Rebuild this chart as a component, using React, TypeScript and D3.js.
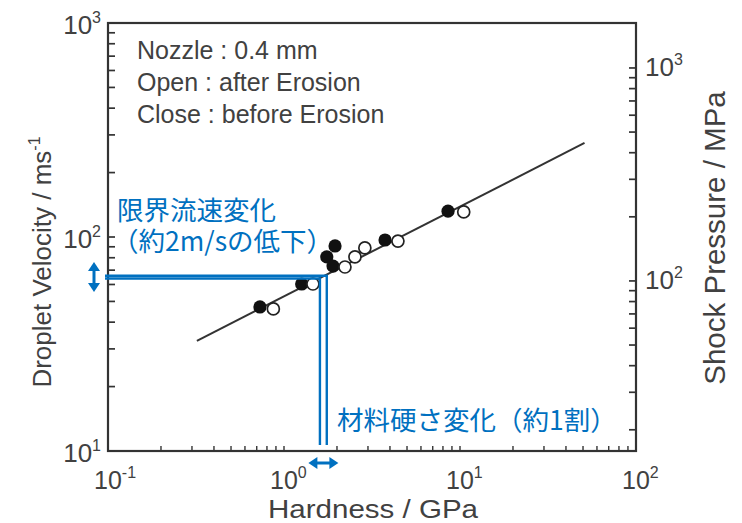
import React from "react";
import * as d3 from "d3";

// ---- data ----
const closedHardness = [0.73, 1.26, 1.75, 1.95, 1.9, 3.75, 8.55];
const closedVelocity = [47.1, 60.3, 80.7, 90.8, 73.1, 96.8, 132];
const openHardness = [0.87, 1.46, 2.22, 2.53, 2.88, 4.44, 10.5];
const openVelocity = [46.1, 60.3, 72.4, 80.7, 88.9, 95.7, 131];
const fitHardness = [0.32, 51];
const fitVelocity = [32.7, 275];
const criticalHardness = [1.75, 1.6];
const criticalVelocity = [65.9, 64.0];
const xTickValues = [0.1, 1, 10, 100];
const xTickExp = ["-1", "0", "1", "2"];
const yTickValues = [10, 100, 1000];
const yTickExp = ["1", "2", "3"];
const pTickValues = [100, 1000];
const pTickExp = ["2", "3"];
const notes = ["Nozzle : 0.4 mm", "Open : after Erosion", "Close : before Erosion"];
const velocityNote = ["限界流速変化", "（約2m/sの低下）"];
const hardnessNote = "材料硬さ変化（約1割）";

const W = 742;
const H = 523;
const L = 108, R = 636, T = 23, B = 451;
const BLUE = "#0070C0";
const INK = "#333";
const TXT = "#414141";
const FONT = "'Liberation Sans', Arial, sans-serif";
const JFONT = "'Noto Sans CJK JP', sans-serif";

export default function App() {
  const x = d3.scaleLog().domain([0.1, 100]).range([L, R]);
  const y = d3.scaleLog().domain([10, 1000]).range([B, T]);
  const p = d3.scaleLog().domain([15.9, 1626]).range([B, T]);

  const xt = x.ticks();
  const yt = y.ticks();
  const pt = p.ticks().filter((v) => v >= 20 && v <= 1000);

  const fit = d3
    .line<number>()
    .x((_, i) => x(fitHardness[i]))
    .y((_, i) => y(fitVelocity[i]));

  const vx = (x(criticalHardness[0]) + x(criticalHardness[1])) / 2;
  const vy = (y(criticalVelocity[0]) + y(criticalVelocity[1])) / 2;

  return (
    <svg
      width={W}
      height={H}
      viewBox={`0 0 ${W} ${H}`}
      style={{ position: "fixed", left: 0, top: 0, background: "#fff" }}
    >
      <rect x={0} y={0} width={W} height={H} fill="#fff" />
      {/* frame */}
      <rect x={L} y={T} width={R - L} height={B - T} fill="none" stroke={INK} strokeWidth={2.2} />
      {/* bottom ticks */}
      {xt.map((v, i) => (
        <line key={"xt" + i} x1={x(v)} x2={x(v)} y1={B} y2={B - 5} stroke={INK} strokeWidth={1.4} />
      ))}
      {/* left ticks */}
      {yt.map((v, i) => (
        <line key={"yt" + i} x1={L} x2={L + 7} y1={y(v)} y2={y(v)} stroke={INK} strokeWidth={1.7} />
      ))}
      {/* right ticks */}
      {pt.map((v, i) => (
        <line key={"pt" + i} x1={R} x2={R - 7} y1={p(v)} y2={p(v)} stroke={INK} strokeWidth={1.7} />
      ))}
      {/* bottom tick labels */}
      {xTickValues.map((v, i) => (
        <text key={"xl" + i} x={x(v) - 14} y={489} fontFamily={FONT} fontSize={25} fill={TXT}>
          10
          <tspan fontSize={16} dy={-11}>{xTickExp[i]}</tspan>
        </text>
      ))}
      {/* left tick labels */}
      {yTickValues.map((v, i) => (
        <text key={"yl" + i} x={101} y={y(v) + 11} fontFamily={FONT} fontSize={26} fill={TXT} textAnchor="end">
          10
          <tspan fontSize={16} dy={-11}>{yTickExp[i]}</tspan>
        </text>
      ))}
      {/* right tick labels */}
      {pTickValues.map((v, i) => (
        <text key={"pl" + i} x={645} y={p(v) + 8} fontFamily={FONT} fontSize={26} fill={TXT}>
          10
          <tspan fontSize={16} dy={-11}>{pTickExp[i]}</tspan>
        </text>
      ))}
      {/* axis titles */}
      <text
        x={268}
        y={517.5}
        fontFamily={FONT}
        fontSize={25.5}
        fill={TXT}
        textLength={210}
        lengthAdjust="spacingAndGlyphs"
      >
        Hardness / GPa
      </text>
      <text
        transform={`translate(51,262) rotate(-90)`}
        textAnchor="middle"
        fontFamily={FONT}
        fontSize={26}
        fill={TXT}
      >
        Droplet Velocity / ms<tspan fontSize={16} dy={-11}>-1</tspan>
      </text>
      <text
        transform={`translate(725,238) rotate(-90)`}
        textAnchor="middle"
        fontFamily={FONT}
        fontSize={29.5}
        fill={TXT}
      >
        Shock Pressure / MPa
      </text>
      {/* notes */}
      {notes.map((s, i) => (
        <text key={"n" + i} x={137} y={59 + i * 32} fontFamily={FONT} fontSize={25} fill={TXT}>
          {s}
        </text>
      ))}
      {/* fit line */}
      <path d={fit(fitHardness) || ""} fill="none" stroke={INK} strokeWidth={2} />
      {/* markers */}
      {closedHardness.map((h, i) => (
        <circle key={"c" + i} cx={x(h)} cy={y(closedVelocity[i])} r={6.6} fill="#111" />
      ))}
      {openHardness.map((h, i) => (
        <circle
          key={"o" + i}
          cx={x(h)}
          cy={y(openVelocity[i])}
          r={6}
          fill="#fff"
          stroke="#222"
          strokeWidth={1.7}
        />
      ))}
      {/* blue critical lines */}
      {criticalHardness.map((h, i) => (
        <polyline
          key={"b" + i}
          points={`${L - 3},${y(criticalVelocity[i])} ${x(h)},${y(criticalVelocity[i])} ${x(h)},${B - 6}`}
          fill="none"
          stroke={BLUE}
          strokeWidth={2.4}
        />
      ))}
      {/* vertical double arrow */}
      <line x1={94} x2={94} y1={vy - 9} y2={vy + 9} stroke={BLUE} strokeWidth={3} />
      <path d={`M94,${vy - 15} L88,${vy - 6} L100,${vy - 6} Z`} fill={BLUE} />
      <path d={`M94,${vy + 15} L88,${vy + 6} L100,${vy + 6} Z`} fill={BLUE} />
      {/* horizontal double arrow */}
      <line x1={vx - 9} x2={vx + 9} y1={463} y2={463} stroke={BLUE} strokeWidth={3} />
      <path d={`M${vx - 15},463 L${vx - 6},457 L${vx - 6},469 Z`} fill={BLUE} />
      <path d={`M${vx + 15},463 L${vx + 6},457 L${vx + 6},469 Z`} fill={BLUE} />
      {/* blue Japanese annotations */}
      <text fontFamily={JFONT} fontSize={26.5} fill={BLUE}>
        <tspan x={117} y={220}>{velocityNote[0]}</tspan>
        <tspan x={112} y={251}>{velocityNote[1]}</tspan>
      </text>
      <text x={337} y={430} fontFamily={JFONT} fontSize={26.5} fill={BLUE}>
        {hardnessNote}
      </text>
    </svg>
  );
}
